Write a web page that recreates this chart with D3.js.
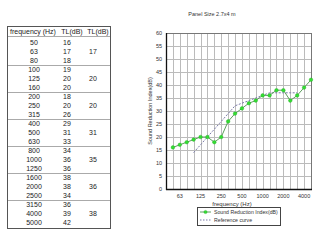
<!DOCTYPE html>
<html>
<head>
<meta charset="utf-8">
<script src="https://cdn.jsdelivr.net/npm/d3@7"></script>
<style>
  body { margin: 0; background: #fff; }
  svg { display: block; font-family: "Liberation Sans", Arial, sans-serif; }
</style>
</head>
<body>
<svg id="chart" width="320" height="240"></svg>
<script>
// table / chart data
var freqs = [50, 63, 80, 100, 125, 160, 200, 250, 315, 400, 500, 630, 800, 1000, 1250, 1600, 2000, 2500, 3150, 4000, 5000]
var tl = [16, 17, 18, 19, 20, 20, 18, 20, 26, 29, 31, 33, 34, 36, 36, 38, 38, 34, 36, 39, 42]
var octaveTL = [17, 20, 20, 31, 35, 36, 38]
var refFreqs = [100, 125, 160, 200, 250, 315, 400, 500, 630, 800, 1000, 1250, 1600, 2000, 2500, 3150]
var refCurve = [14, 17, 20, 23, 26, 29, 32, 33, 34, 35, 36, 37, 37, 37, 37, 37]
var xTickLabels = [63, 125, 250, 500, 1000, 2000, 4000]
var yTicks = [0, 5, 10, 15, 20, 25, 30, 35, 40, 45, 50, 55, 60]

var svg = d3.select("#chart")

// ---- table on the left ----
var tbl = svg.append("g")
var rowY = d3.scaleLinear().domain([0, 20]).range([42, 222])

tbl.append("rect")
  .attr("x", 7.5).attr("y", 26.5)
  .attr("width", 103).attr("height", 202)
  .attr("fill", "#fff").attr("stroke", "#555")

tbl.append("line")
  .attr("x1", 8).attr("x2", 110)
  .attr("y1", 36.5).attr("y2", 36.5)
  .attr("stroke", "#aaa")

var headers = [{ t: "frequency (Hz)", x: 33 }, { t: "TL(dB)", x: 72 }, { t: "TL(dB)", x: 98 }]
tbl.selectAll(".hdr")
  .data(headers)
  .enter()
  .append("text")
  .attr("x", function(d) { return d.x })
  .attr("y", 33.5)
  .attr("text-anchor", "middle")
  .attr("font-size", 7)
  .attr("fill", "#222")
  .text(function(d) { return d.t })

// separators between octave groups
tbl.selectAll(".sep")
  .data(d3.range(1, 7))
  .enter()
  .append("line")
  .attr("x1", 8).attr("x2", 110)
  .attr("y1", function(g) { return Math.round(rowY(g * 3 - 0.5)) + 0.5 })
  .attr("y2", function(g) { return Math.round(rowY(g * 3 - 0.5)) + 0.5 })
  .attr("stroke", "#aaa")

tbl.selectAll(".fq")
  .data(freqs)
  .enter()
  .append("text")
  .attr("x", 34)
  .attr("y", function(d, i) { return rowY(i) + 2.5 })
  .attr("text-anchor", "middle")
  .attr("font-size", 7)
  .attr("fill", "#222")
  .text(function(d) { return d })

tbl.selectAll(".tl")
  .data(tl)
  .enter()
  .append("text")
  .attr("x", 67)
  .attr("y", function(d, i) { return rowY(i) + 2.5 })
  .attr("text-anchor", "middle")
  .attr("font-size", 7)
  .attr("fill", "#222")
  .text(function(d) { return d })

tbl.selectAll(".otl")
  .data(octaveTL)
  .enter()
  .append("text")
  .attr("x", 93)
  .attr("y", function(d, i) { return rowY(i * 3 + 1) + 2.5 })
  .attr("text-anchor", "middle")
  .attr("font-size", 7)
  .attr("fill", "#222")
  .text(function(d) { return d })

// ---- chart on the right ----
var x = d3.scaleLinear().domain([-1, freqs.length - 1]).range([166, 311])
var y = d3.scaleLinear().domain([0, 60]).range([189, 33])
function fx(f) { return x(freqs.indexOf(f)) }

svg.append("text")
  .attr("x", 212).attr("y", 16)
  .attr("text-anchor", "middle")
  .attr("font-size", 5.5)
  .attr("fill", "#333")
  .text("Panel Size 2.7x4 m")

var grid = svg.append("g")
grid.selectAll(".vg")
  .data(d3.range(0, freqs.length))
  .enter()
  .append("line")
  .attr("x1", function(i) { return Math.round(x(i)) + 0.5 })
  .attr("x2", function(i) { return Math.round(x(i)) + 0.5 })
  .attr("y1", y(60)).attr("y2", y(0))
  .attr("stroke", "#bbb")
grid.selectAll(".hg")
  .data(yTicks)
  .enter()
  .append("line")
  .attr("x1", x(-1)).attr("x2", x(20))
  .attr("y1", function(d) { return Math.round(y(d)) + 0.5 })
  .attr("y2", function(d) { return Math.round(y(d)) + 0.5 })
  .attr("stroke", "#bbb")

// frame
svg.append("rect")
  .attr("x", x(-1) + 0.5).attr("y", y(60) + 0.5)
  .attr("width", x(20) - x(-1)).attr("height", y(0) - y(60))
  .attr("fill", "none").attr("stroke", "#777")
svg.append("line")
  .attr("x1", x(-1) + 0.5).attr("x2", x(-1) + 0.5)
  .attr("y1", y(60)).attr("y2", y(0) + 1)
  .attr("stroke", "#111").attr("stroke-width", 1.3)
svg.append("line")
  .attr("x1", x(-1)).attr("x2", x(20) + 1)
  .attr("y1", y(0) + 0.5).attr("y2", y(0) + 0.5)
  .attr("stroke", "#111").attr("stroke-width", 1.3)

svg.selectAll(".yl")
  .data(yTicks)
  .enter()
  .append("text")
  .attr("x", 162)
  .attr("y", function(d) { return y(d) + 2 })
  .attr("text-anchor", "end")
  .attr("font-size", 5.5)
  .attr("fill", "#333")
  .text(function(d) { return d })

svg.selectAll(".xl")
  .data(xTickLabels)
  .enter()
  .append("text")
  .attr("x", function(d) { return fx(d) })
  .attr("y", 198)
  .attr("text-anchor", "middle")
  .attr("font-size", 5.5)
  .attr("fill", "#333")
  .text(function(d) { return d })

svg.append("text")
  .attr("x", 232).attr("y", 205.5)
  .attr("text-anchor", "middle")
  .attr("font-size", 6)
  .attr("fill", "#333")
  .text("frequency (Hz)")

svg.append("text")
  .attr("transform", "translate(152," + ((y(0) + y(60)) / 2) + ") rotate(-90)")
  .attr("text-anchor", "middle")
  .attr("font-size", 5.5)
  .attr("fill", "#333")
  .text("Sound Reduction Index(dB)")

// reference curve
var refLine = d3.line()
  .x(function(d, i) { return fx(refFreqs[i]) })
  .y(function(d) { return y(d) })
svg.append("path")
  .attr("d", refLine(refCurve))
  .attr("fill", "none")
  .attr("stroke", "#7a7aa8")
  .attr("stroke-width", 1)
  .attr("stroke-dasharray", "2,1.5")

// measured curve
var tlLine = d3.line()
  .x(function(d, i) { return x(i) })
  .y(function(d) { return y(d) })
svg.append("path")
  .attr("d", tlLine(tl))
  .attr("fill", "none")
  .attr("stroke", "#5f9f5f")
  .attr("stroke-width", 1)
svg.selectAll(".pt")
  .data(tl)
  .enter()
  .append("circle")
  .attr("cx", function(d, i) { return x(i) })
  .attr("cy", function(d) { return y(d) })
  .attr("r", 1.8)
  .attr("fill", "#33dd33")
  .attr("stroke", "#22aa22")
  .attr("stroke-width", 0.4)

// legend
var lg = svg.append("g")
lg.append("rect")
  .attr("x", 197.5).attr("y", 207.5)
  .attr("width", 83).attr("height", 18)
  .attr("fill", "#fff").attr("stroke", "#444")
lg.append("line")
  .attr("x1", 200).attr("x2", 211).attr("y1", 212).attr("y2", 212)
  .attr("stroke", "#5f9f5f")
lg.append("circle")
  .attr("cx", 205.5).attr("cy", 212).attr("r", 1.6)
  .attr("fill", "#33dd33").attr("stroke", "#22aa22").attr("stroke-width", 0.4)
lg.append("line")
  .attr("x1", 200).attr("x2", 211).attr("y1", 220).attr("y2", 220)
  .attr("stroke", "#7a7aa8").attr("stroke-dasharray", "1.5,1.5")
lg.append("text")
  .attr("x", 214).attr("y", 214)
  .attr("font-size", 5.2).attr("fill", "#333")
  .text("Sound Reduction Index(dB)")
lg.append("text")
  .attr("x", 214).attr("y", 222)
  .attr("font-size", 5.2).attr("fill", "#333")
  .text("Reference curve")
</script>
</body>
</html>
